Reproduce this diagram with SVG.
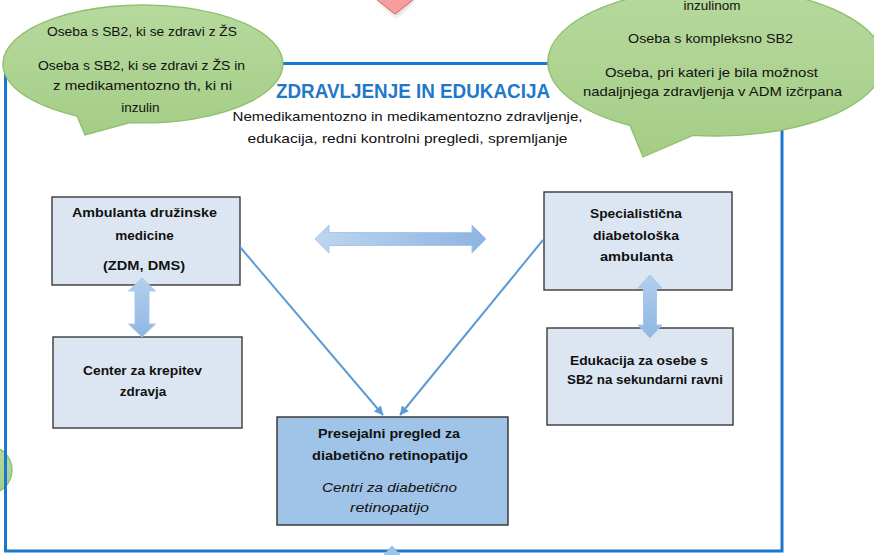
<svg xmlns="http://www.w3.org/2000/svg" width="874" height="555" viewBox="0 0 874 555">
<style>
.t{font-family:"Liberation Sans",Arial,sans-serif;fill:#111;text-anchor:middle}
.b{font-size:13.5px}
.n{font-weight:bold;font-size:13.5px}
.i{font-style:italic}
.bub{fill:url(#gG);stroke:#8dbf6c;stroke-width:1.3}
.box{fill:#dce6f2;stroke:#3a3a3a;stroke-width:1.4}
.dbl{stroke:#a9c7eb;stroke-width:1}
.con{stroke:#5b9bd5;stroke-width:2;fill:none}
</style>
<defs>
<linearGradient id="gG" x1="0" y1="0" x2="0" y2="1">
<stop offset="0" stop-color="#b6d99d"/><stop offset="1" stop-color="#a5cd86"/>
</linearGradient>
<linearGradient id="gH" x1="0" y1="0" x2="1" y2="0">
<stop offset="0" stop-color="#bdd5f0"/><stop offset="1" stop-color="#8db4e2"/>
</linearGradient>
<linearGradient id="gV" x1="0" y1="0" x2="0" y2="1">
<stop offset="0" stop-color="#b3cfee"/><stop offset="1" stop-color="#8fb6e3"/>
</linearGradient>
<marker id="ah" viewBox="0 0 10 10" refX="9.5" refY="5" markerWidth="10" markerHeight="9" markerUnits="userSpaceOnUse" orient="auto">
<path d="M0,0 L10,5 L0,10 z" fill="#5b9bd5"/>
</marker>
<filter id="sh" x="-30%" y="-30%" width="160%" height="160%">
<feGaussianBlur stdDeviation="2"/>
</filter>
</defs>

<g id="left-circle"><ellipse cx="-12" cy="470" rx="24" ry="24" class="bub"/></g>

<g id="frame"><rect x="5.5" y="63.5" width="776.5" height="487.5" fill="none" stroke="#1a78cf" stroke-width="3"/></g>

<g id="top-arrow">
<polygon points="377,0 396,17 415,0" fill="#999" opacity="0.45" filter="url(#sh)"/>
<polygon points="376,-1 395,14 414,-1" fill="#f79d9d" stroke="#cf6464" stroke-width="1"/>
</g>

<g id="bubble-left">
<path class="bub" d="M77,116 L85,135 L130,122.7 A140,59 0 1 0 77,116 Z"/>
<text class="t b" x="142" y="36" textLength="190" lengthAdjust="spacingAndGlyphs">Oseba s SB2, ki se zdravi z ŽS</text>
<text class="t b" x="141.5" y="70" textLength="207" lengthAdjust="spacingAndGlyphs">Oseba s SB2, ki se zdravi z ŽS in</text>
<text class="t b" x="142.5" y="90" textLength="179" lengthAdjust="spacingAndGlyphs">z medikamentozno th, ki ni</text>
<text class="t b" x="140.5" y="112">inzulin</text>
</g>

<g id="bubble-right">
<path class="bub" d="M630,125.6 L643,157 L693,135.3 A168,74 0 1 0 630,125.6 Z"/>
<text class="t b" x="712" y="10">inzulinom</text>
<text class="t b" x="710.5" y="43" textLength="165" lengthAdjust="spacingAndGlyphs">Oseba s kompleksno SB2</text>
<text class="t b" x="711.5" y="77" textLength="213" lengthAdjust="spacingAndGlyphs">Oseba, pri kateri je bila možnost</text>
<text class="t b" x="712.5" y="96" textLength="259" lengthAdjust="spacingAndGlyphs">nadaljnjega zdravljenja v ADM izčrpana</text>
</g>

<g id="title">
<text class="t" x="413" y="98" style="font-weight:bold;font-size:20px;fill:#1f78c8" textLength="274" lengthAdjust="spacingAndGlyphs">ZDRAVLJENJE IN EDUKACIJA</text>
<text class="t b" x="407.5" y="121" textLength="350" lengthAdjust="spacingAndGlyphs">Nemedikamentozno in medikamentozno zdravljenje,</text>
<text class="t b" x="407.5" y="143" textLength="320" lengthAdjust="spacingAndGlyphs">edukacija, redni kontrolni pregledi, spremljanje</text>
</g>

<g id="node-ambulanta">
<rect class="box" x="52" y="197" width="188" height="88"/>
<text class="t n" x="144.5" y="217" textLength="145" lengthAdjust="spacingAndGlyphs">Ambulanta družinske</text>
<text class="t n" x="144.5" y="240">medicine</text>
<text class="t n" x="144" y="270" textLength="82" lengthAdjust="spacingAndGlyphs">(ZDM, DMS)</text>
</g>

<g id="node-center">
<rect class="box" x="53" y="337" width="189" height="91"/>
<text class="t n" x="142.5" y="375" textLength="119" lengthAdjust="spacingAndGlyphs">Center za krepitev</text>
<text class="t n" x="143" y="396">zdravja</text>
</g>

<g id="node-specialisticna">
<rect class="box" x="544" y="192" width="188" height="98"/>
<text class="t n" x="636" y="218" textLength="92" lengthAdjust="spacingAndGlyphs">Specialistična</text>
<text class="t n" x="636" y="240" textLength="86" lengthAdjust="spacingAndGlyphs">diabetološka</text>
<text class="t n" x="636.5" y="261" textLength="73" lengthAdjust="spacingAndGlyphs">ambulanta</text>
</g>

<g id="node-edukacija">
<rect class="box" x="547" y="328" width="186" height="97"/>
<text class="t n" x="639" y="365" textLength="138" lengthAdjust="spacingAndGlyphs">Edukacija za osebe s</text>
<text class="t n" x="645" y="384" textLength="156" lengthAdjust="spacingAndGlyphs">SB2 na sekundarni ravni</text>
</g>

<g id="node-presejalni">
<rect x="277" y="417" width="231" height="108" fill="#9fc4e7" stroke="#2f2f2f" stroke-width="1.4"/>
<text class="t n" x="389" y="438" textLength="142" lengthAdjust="spacingAndGlyphs">Presejalni pregled za</text>
<text class="t n" x="390" y="460" textLength="156" lengthAdjust="spacingAndGlyphs">diabetično retinopatijo</text>
<text class="t b i" x="389.5" y="492" textLength="135" lengthAdjust="spacingAndGlyphs">Centri za diabetično</text>
<text class="t b i" x="389.5" y="512" textLength="79" lengthAdjust="spacingAndGlyphs">retinopatijo</text>
</g>

<g id="connectors">
<path class="dbl" fill="url(#gV)" d="M142,278 L155.5,291 L149,291 L149,324 L155.5,324 L142,337 L128.5,324 L135,324 L135,291 L128.5,291 Z"/>
<path class="dbl" fill="url(#gV)" d="M650,275 L662,288 L656.5,288 L656.5,325 L662,325 L650,338 L638,325 L643.5,325 L643.5,288 L638,288 Z"/>
<path class="dbl" fill="url(#gH)" d="M315,239 L329,225 L329,232.5 L472,232.5 L472,225 L486,239 L472,253 L472,245.5 L329,245.5 L329,253 Z"/>
<line class="con" x1="240" y1="247" x2="383" y2="415" marker-end="url(#ah)"/>
<line class="con" x1="543" y1="240" x2="400" y2="415" marker-end="url(#ah)"/>
<path d="M392,546 L401,556 L383,556 Z" fill="#9dc3e6" stroke="#8fb4e3" stroke-width="1"/>
</g>
</svg>
